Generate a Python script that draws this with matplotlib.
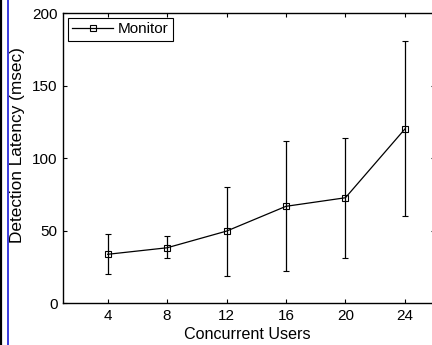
import matplotlib
matplotlib.use("Agg")
import matplotlib.pyplot as plt
from matplotlib.lines import Line2D

plt.rcParams['font.family'] = ['Liberation Sans', 'DejaVu Sans']

users = [4, 8, 12, 16, 20, 24]
latency = [33.6, 38.1, 49.6, 66.7, 72.6, 120.0]
err_low = [20.2, 30.8, 18.6, 21.9, 31.2, 60.0]
err_high = [47.8, 46.0, 79.8, 111.7, 114.0, 180.4]
xticks = [4, 8, 12, 16, 20, 24]
yticks = [0, 50, 100, 150, 200]

lower = [m - l for m, l in zip(latency, err_low)]
upper = [h - m for m, h in zip(latency, err_high)]

fig = plt.figure(figsize=(4.32, 3.45), dpi=100)
ax = fig.add_axes([0.146, 0.1217, 0.860, 0.8405])

ax.errorbar(users, latency, yerr=[lower, upper], color='black', lw=0.9,
            elinewidth=0.9, capsize=2.3, capthick=0.9, marker='s',
            markersize=4.5, markerfacecolor='none', markeredgecolor='black',
            markeredgewidth=0.8, label='Monitor')

ax.set_xlim(1, 26)
ax.set_ylim(0, 200)
ax.set_xticks(xticks)
ax.set_yticks(yticks)
ax.tick_params(direction='in', top=True, right=True, labelsize=11, length=3,
               width=0.8, pad=4)
for s in ax.spines.values():
    s.set_linewidth(1.0)
ax.set_xlabel('Concurrent Users', fontsize=11.6)
ax.xaxis.set_label_coords(0.497, -0.108)
ax.set_ylabel('Detection Latency (msec)', fontsize=12.4)
ax.yaxis.set_label_coords(-0.124, 0.545)
ax.yaxis.label.set_va('center')
ax.xaxis.label.set_va('center')

handle = Line2D([], [], color='black', lw=0.9, marker='s', markersize=4.5,
                markerfacecolor='none', markeredgecolor='black', markeredgewidth=0.8)
leg = ax.legend([handle], ['Monitor'], loc='upper left', fontsize=11,
                fancybox=False, edgecolor='black', framealpha=1,
                borderpad=0.3, handlelength=2.7, handletextpad=0.3,
                borderaxespad=0.3)
leg.get_frame().set_linewidth(0.8)

# page-edge lines at left of the crop
fig.add_artist(Line2D([0.002, 0.002], [0, 1], transform=fig.transFigure, color='black', lw=1.6))
fig.add_artist(Line2D([0.018, 0.018], [0, 1], transform=fig.transFigure, color='#3a3adc', lw=1.4))

fig.savefig('out.png', dpi=100)
